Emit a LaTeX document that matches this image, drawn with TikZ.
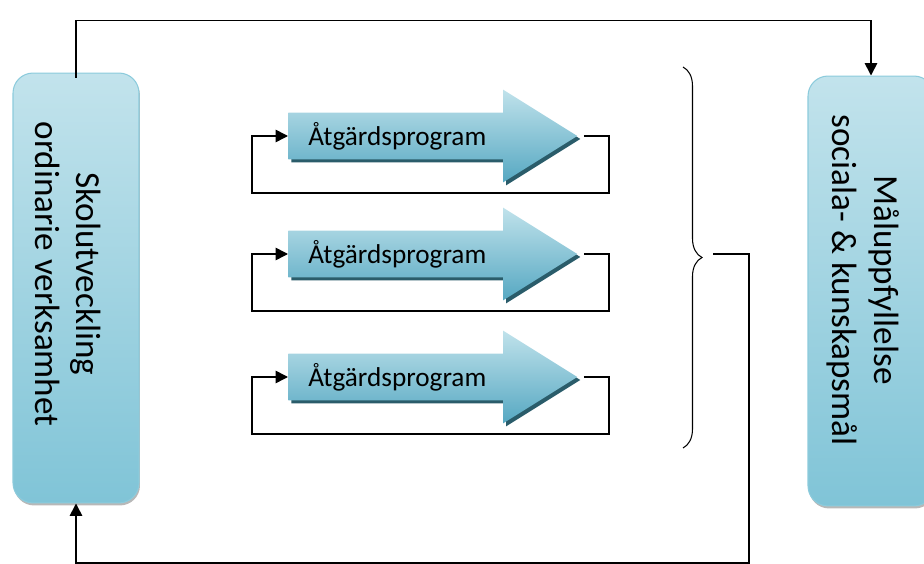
\documentclass[tikz,border=0pt]{standalone}
\usepackage{fontspec}
\setmainfont{Carlito}
\usetikzlibrary{shapes.arrows, arrows.meta, positioning, calc, shadows, decorations.pathreplacing}
\definecolor{boxtop}{RGB}{194,227,236}
\definecolor{boxbottom}{RGB}{128,196,215}
\definecolor{boxedge}{RGB}{140,203,220}
\definecolor{arrowtop}{RGB}{192,226,235}
\definecolor{arrowbottom}{RGB}{86,168,194}
\definecolor{arrowshadow}{RGB}{42,92,106}

\begin{document}
\begin{tikzpicture}[
    x=0.02cm, y=-0.02cm,
    goalbox/.style={rectangle, draw=boxedge, line width=0.6pt, top color=boxtop, bottom color=boxbottom, rounded corners=0.4cm, minimum width=2.52cm, minimum height=8.6cm, drop shadow={shadow xshift=0.02cm, shadow yshift=-0.05cm, fill=gray!70, opacity=0.8}},
    sidetext/.style={rotate=-90, align=center, inner sep=0pt, font=\fontsize{20}{23.5}\selectfont},
    progarrow/.style={single arrow, single arrow head extend=0.46cm, single arrow tip angle=64, inner xsep=0pt, inner ysep=0.46cm, minimum height=5.78cm, top color=arrowtop, bottom color=arrowbottom, draw=none, drop shadow={shadow xshift=0.06cm, shadow yshift=-0.06cm, fill=arrowshadow, opacity=1}},
    progtext/.style={anchor=west, inner sep=0pt, font=\fontsize{15.5}{18}\selectfont},
    link/.style={-{Triangle[length=7pt,width=7pt]}, line width=0.9pt},
    bracestyle/.style={decorate, decoration={brace, amplitude=0.38cm}, line width=0.6pt}
]
    \useasboundingbox (0,0) rectangle (924,564);
    \clip (0,0) rectangle (924,564);

    % start and goal
    \node[goalbox] (school) at (76,288) {};
    \node[sidetext] (schooltext) at (68,274) {Skolutveckling\\ordinarie verksamhet};
    \node[goalbox] (goal) at (871,291) {};
    \node[sidetext] (goaltext) at (863,280) {Måluppfyllelse\\sociala- \& kunskapsmål};

    % the three programmes, each looping back on itself
    \foreach \i/\y in {1/136, 2/254, 3/377} {
        \node[progarrow, anchor=tail] (a\i) at (288,\y) {};
        \node[progtext] (p\i) at ([xshift=0.4cm]a\i.tail) {Åtgärdsprogram};
        \draw[link] ([xshift=0.12cm]a\i.tip) -- ++(25,0) -- ++(0,57) -| ([xshift=-0.72cm]a\i.tail) -- (a\i.tail);
    }

    % brace gathering the programmes
    \coordinate (bracetop) at (683,67);
    \coordinate (bracebot) at (683,448);
    \coordinate (bracetip) at (713,254);
    \draw[bracestyle] (bracetop) -- (bracebot);

    \draw[link] ([yshift=-0.1cm]school.north) -- ++(0,-57) -| (goal.north);
    \draw[link] (bracetip) -- ++(36,0) -- ++(0,309) -| (school.south);
\end{tikzpicture}
\end{document}
